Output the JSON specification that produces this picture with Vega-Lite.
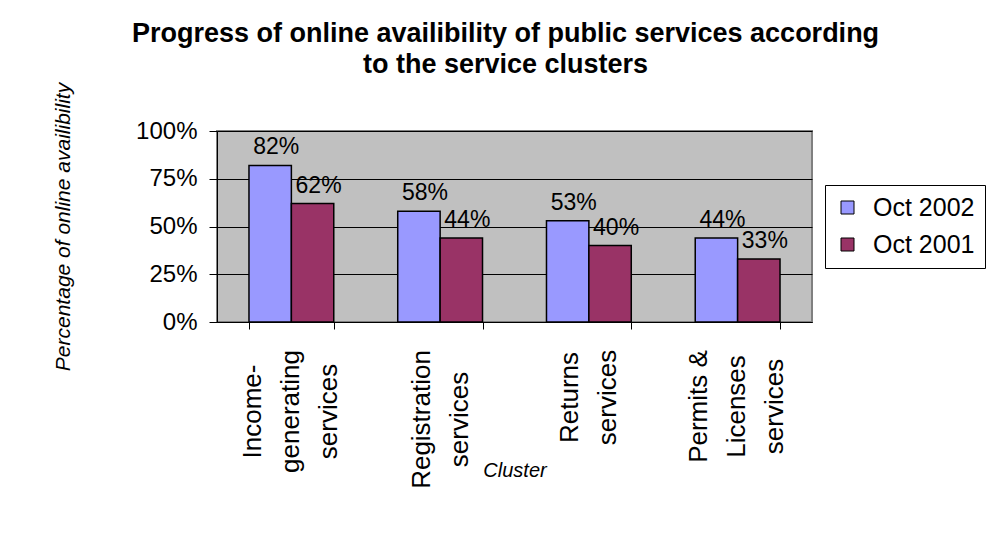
{
  "$schema": "https://vega.github.io/schema/vega-lite/v6.json",
  "width": 595,
  "height": 191,
  "autosize": {"type": "none"},
  "padding": {"left": 217, "top": 131, "right": 178, "bottom": 218},
  "background": "white",
  "title": {
    "text": ["Progress of online availibility of public services according", "to the service clusters"],
    "font": "Liberation Sans",
    "fontSize": 27,
    "fontWeight": "bold",
    "lineHeight": 31,
    "anchor": "middle",
    "offset": 3,
    "dx": -9,
    "color": "black"
  },
  "data": {
    "values": [
      {"cluster": "Income-generating services", "period": "Oct 2002", "value": 0.82},
      {"cluster": "Income-generating services", "period": "Oct 2001", "value": 0.62},
      {"cluster": "Registration services", "period": "Oct 2002", "value": 0.58},
      {"cluster": "Registration services", "period": "Oct 2001", "value": 0.44},
      {"cluster": "Returns services", "period": "Oct 2002", "value": 0.53},
      {"cluster": "Returns services", "period": "Oct 2001", "value": 0.40},
      {"cluster": "Permits & Licenses services", "period": "Oct 2002", "value": 0.44},
      {"cluster": "Permits & Licenses services", "period": "Oct 2001", "value": 0.33}
    ]
  },
  "encoding": {
    "x": {
      "field": "cluster",
      "type": "nominal",
      "sort": null,
      "scale": {"paddingInner": 0.43, "paddingOuter": 0.215},
      "axis": {
        "title": "Cluster",
        "tickBand": "extent",
        "tickSize": 7,
        "tickColor": "black",
        "domainColor": "black",
        "grid": false,
        "labelAngle": 270,
        "labelAlign": "center",
        "labelBaseline": "middle",
        "labelFont": "Liberation Sans",
        "labelFontSize": 26,
        "labelLineHeight": 38,
        "labelColor": "black",
        "labelOverlap": false,
        "labelLimit": 0,
        "labelExpr": "datum.value == 'Income-generating services' ? ['Income-','generating','services'] : datum.value == 'Registration services' ? ['Registration','services'] : datum.value == 'Returns services' ? ['Returns','services'] : datum.value == 'Permits & Licenses services' ? ['Permits &','Licenses','services'] : ''",
        "labelPadding": {
          "condition": [
            {"test": "datum.value === 'Income-generating services'", "value": 82},
            {"test": "datum.value === 'Registration services'", "value": 90},
            {"test": "datum.value === 'Returns services'", "value": 68}
          ],
          "value": 77
        },
        "labelOffset": {
          "condition": [
            {"test": "datum.value === 'Registration services'", "value": -19},
            {"test": "datum.value === 'Returns services'", "value": -19}
          ],
          "value": -39
        },
        "titleFont": "Liberation Sans",
        "titleFontSize": 20,
        "titleFontStyle": "italic",
        "titleFontWeight": "normal",
        "titleColor": "black",
        "titleY": 154,
        "titleBaseline": "alphabetic"
      }
    },
    "xOffset": {
      "field": "period",
      "type": "nominal",
      "sort": ["Oct 2002", "Oct 2001"],
      "scale": {"paddingInner": 0, "paddingOuter": 0}
    },
    "y": {
      "field": "value",
      "type": "quantitative",
      "scale": {"domain": [0, 1]},
      "axis": {
        "title": "Percentage of online availibility",
        "values": [0, 0.25, 0.5, 0.75, 1],
        "format": ".0%",
        "labelFont": "Liberation Sans",
        "labelFontSize": 24,
        "labelColor": "black",
        "labelPadding": 12,
        "tickSize": 8,
        "tickColor": "black",
        "domainColor": "black",
        "gridColor": "black",
        "gridWidth": 1,
        "titleFont": "Liberation Sans",
        "titleFontSize": 21,
        "titleFontStyle": "italic",
        "titleFontWeight": "normal",
        "titleColor": "black",
        "titlePadding": 62
      }
    }
  },
  "layer": [
    {
      "mark": {"type": "bar", "stroke": "black", "strokeWidth": 1.5, "opacity": 1},
      "encoding": {
        "color": {
          "field": "period",
          "type": "nominal",
          "scale": {"domain": ["Oct 2002", "Oct 2001"], "range": ["#9999FF", "#993366"]},
          "legend": {
            "title": null,
            "orient": "none",
            "legendX": 608,
            "legendY": 54,
            "padding": 10,
            "strokeColor": "black",
            "fillColor": "white",
            "symbolType": "square",
            "symbolSize": 169,
            "symbolStrokeColor": "black",
            "symbolStrokeWidth": 1,
            "symbolOpacity": 1,
            "labelFont": "Liberation Sans",
            "labelFontSize": 25,
            "labelColor": "black",
            "labelOffset": 13,
            "rowPadding": 11
          }
        }
      }
    },
    {
      "mark": {"type": "text", "baseline": "alphabetic", "dy": -11, "dx": 6, "font": "Liberation Sans", "fontSize": 23, "color": "black"},
      "encoding": {
        "text": {"field": "value", "type": "quantitative", "format": ".0%"}
      }
    }
  ],
  "config": {
    "font": "Liberation Sans",
    "view": {"fill": "#C0C0C0", "stroke": "#808080", "strokeWidth": 2}
  }
}
